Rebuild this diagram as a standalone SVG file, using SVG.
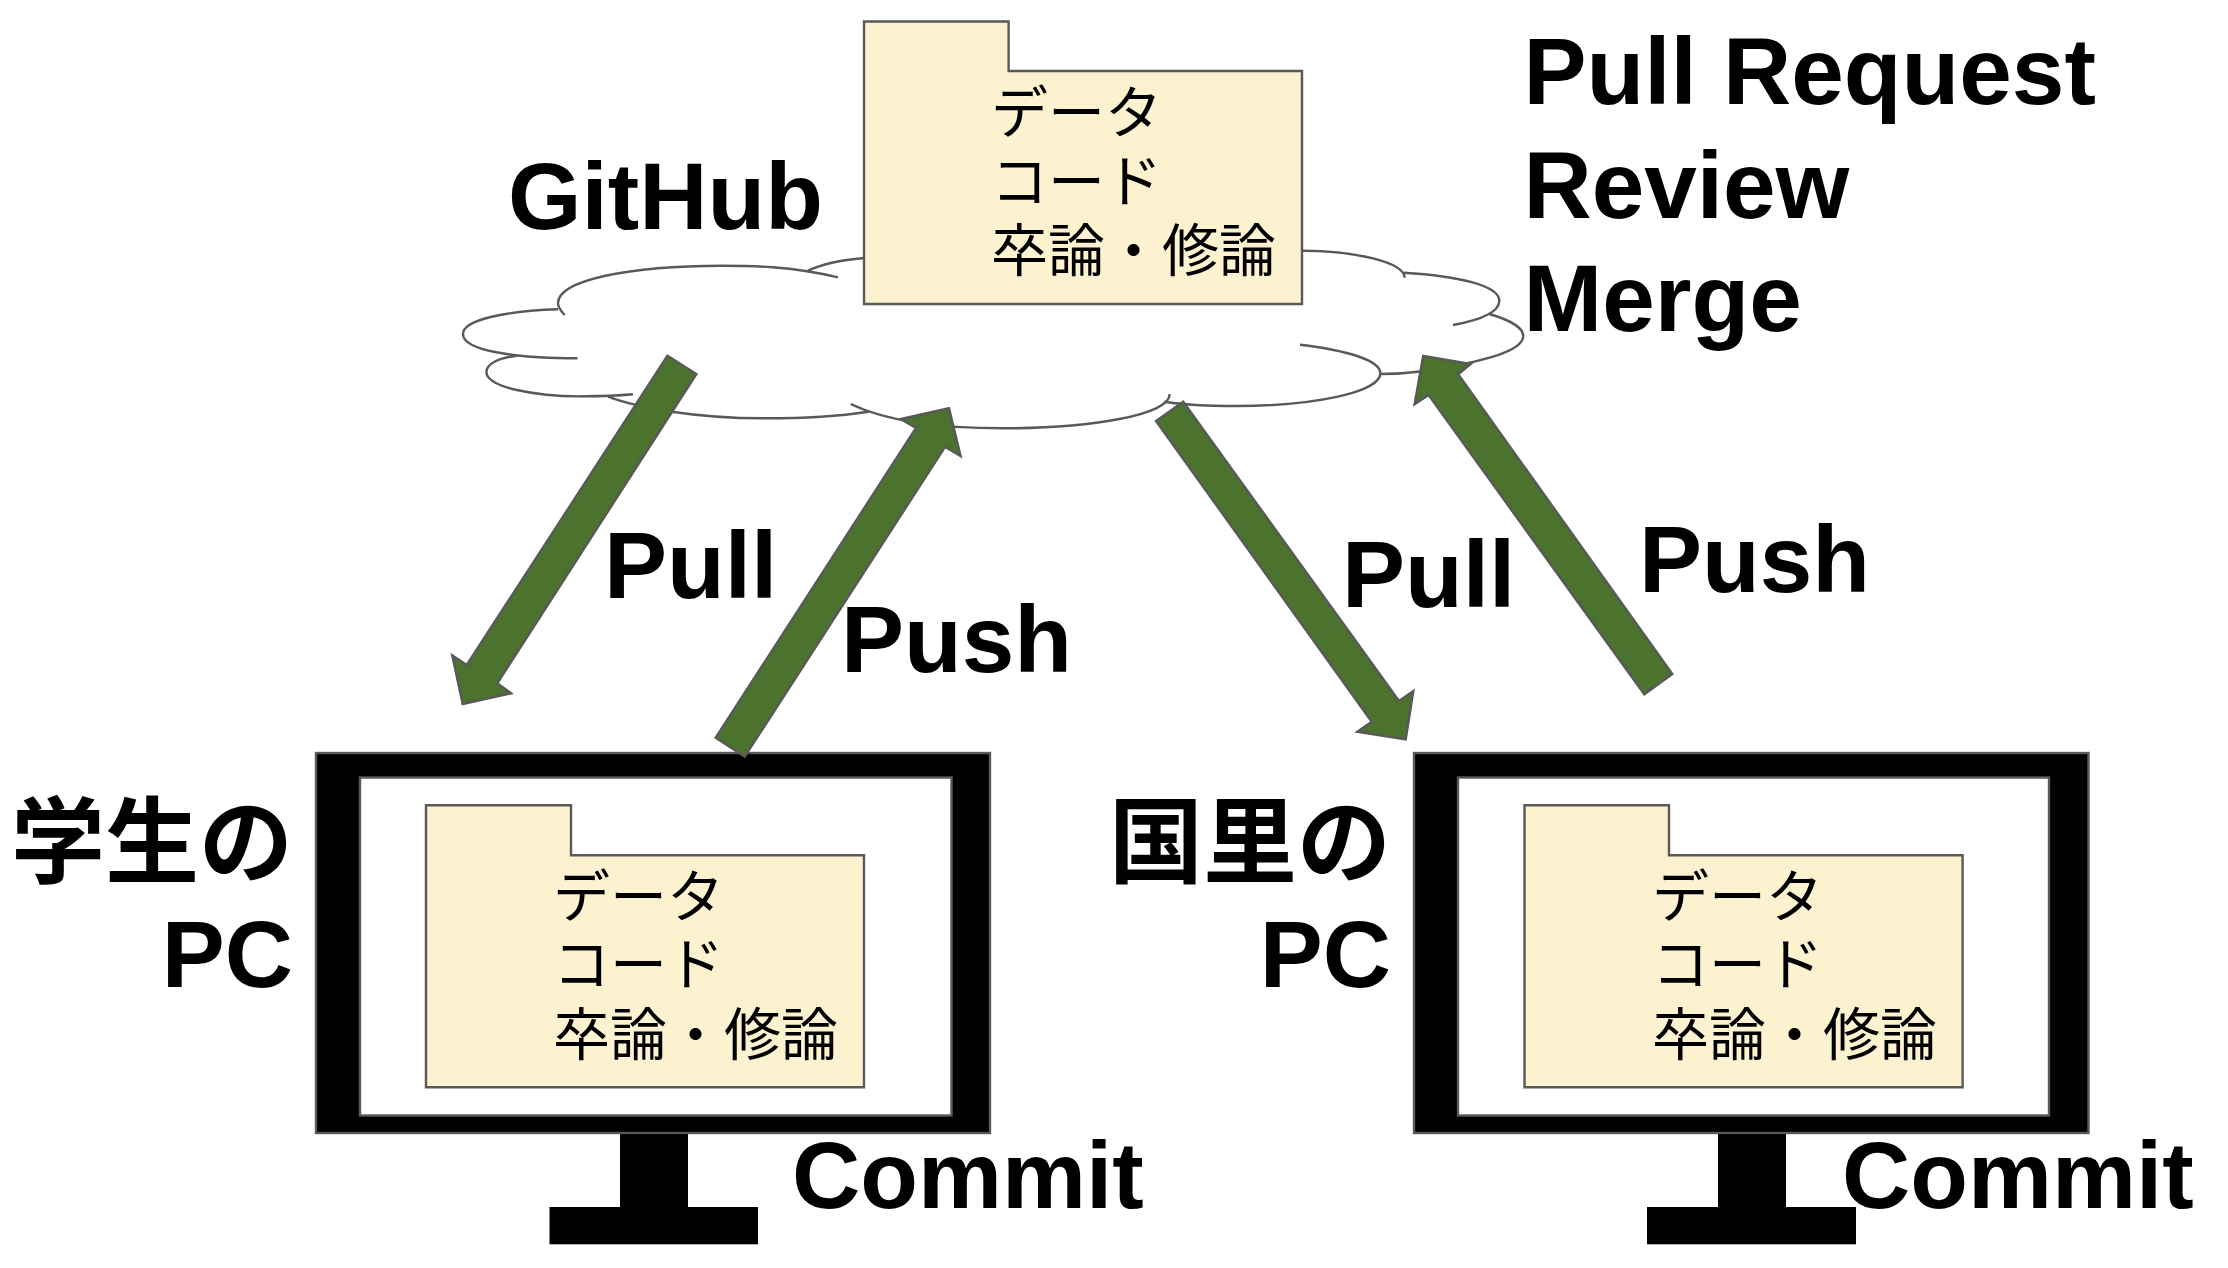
<svg xmlns="http://www.w3.org/2000/svg" width="2228" height="1268" viewBox="0 0 2228 1268">
<style>
.bg{fill:#fff}
.cloud path{fill:none;stroke:#595959;stroke-width:2.4}
.folder{fill:#fcf2d0;stroke:#595959;stroke-width:2.4}
.arrow{fill:#4b732d;stroke:#595959;stroke-width:2.4;stroke-linejoin:miter}
.frame{fill:#000;stroke:#595959;stroke-width:2.4}
.screen{fill:#fff;stroke:#595959;stroke-width:2.4}
.stand{fill:#000}
.l{font-family:"Liberation Sans",Arial,sans-serif;font-weight:700;font-size:94.5px;fill:#000}
.j{font-family:"Liberation Sans","Noto Sans CJK JP",sans-serif;font-weight:700;font-size:94px;fill:#000}
.f{font-family:"Noto Sans CJK JP",sans-serif;font-size:57px;fill:#000}
</style>
<rect class="bg" width="2228" height="1268"/>
<g id="github">
<g class="cloud">
<path d="M838,277.3C790,266 750,265.7 722,265.7C630,265.7 558,280 558,303.3C558,308 561,311 564.6,315"/>
<path d="M808,270.7C822,264 842,260 864,258"/>
<path d="M558,309.3C505,311 463,320 463,334C463,350 510,358 577.5,358.3"/>
<path d="M516.8,355.7C498,358 486.4,364 486.4,372C486.4,387 535,397 585,396.3C602,396.3 620,395.5 633,394.3"/>
<path d="M608,396.7C622,402 640,407 672,411.7C700,416 730,418.3 765,418.3C800,418.3 840,416 868.6,411.7"/>
<path d="M850.7,404C880,418 930,428.3 1004,428.3C1090,428.3 1170,415 1169.6,394"/>
<path d="M1164.3,401.7C1185,405 1210,406 1236,406C1315,406 1380.4,392 1380.4,373.3C1380.4,360 1345,350 1300,344.7"/>
<path d="M1380.4,374C1395,374 1410,373 1425,371C1480,362 1523.2,352 1523.2,336C1523.2,328 1510,320 1489.3,314"/>
<path d="M1453,325C1480,320 1499.3,312 1499.3,300.7C1499.3,286 1460,276 1403.6,272.7"/>
<path d="M1404.6,277.7C1404,262 1355,251 1303,250.7"/>
</g>
<path class="folder" d="M864,21.5H1008.6V71H1302V304H864Z"/>
<text class="f" x="991" y="133">データ</text>
<text class="f" x="991" y="201.5">コード</text>
<text class="f" x="991" y="271">卒論・修論</text>
<text class="l" x="508" y="229">GitHub</text>
</g>
<g id="pc-student">
<rect class="stand" x="620" y="1133" width="68" height="75"/>
<rect class="stand" x="549.5" y="1207" width="208.5" height="37.3"/>
<rect class="frame" x="316" y="753" width="674" height="380"/>
<rect class="screen" x="360" y="777.5" width="591.5" height="338"/>
<path class="folder" d="M426,805.2H571V855.3H864V1087.3H426Z"/>
<text class="f" x="553" y="916.5">データ</text>
<text class="f" x="553" y="985">コード</text>
<text class="f" x="553" y="1054.5">卒論・修論</text>
<text class="j" x="293" y="876" text-anchor="end">学生の</text>
<text class="l" x="293" y="986.5" text-anchor="end">PC</text>
<text class="l" x="792" y="1208">Commit</text>
</g>
<g id="pc-kuniri">
<rect class="stand" x="1718" y="1133" width="68" height="75"/>
<rect class="stand" x="1647" y="1207" width="209" height="37.3"/>
<rect class="frame" x="1414" y="753" width="674.5" height="380"/>
<rect class="screen" x="1458" y="777.5" width="591" height="338"/>
<path class="folder" d="M1524.5,805.2H1669V855.3H1962.6V1087.3H1524.5Z"/>
<text class="f" x="1652" y="916.5">データ</text>
<text class="f" x="1652" y="985">コード</text>
<text class="f" x="1652" y="1054.5">卒論・修論</text>
<text class="j" x="1391" y="876" text-anchor="end">国里の</text>
<text class="l" x="1391" y="986.5" text-anchor="end">PC</text>
<text class="l" x="1842" y="1208">Commit</text>
</g>
<g id="connectors">
<path class="arrow" d="M667.5,355.7L696.4,374L497.3,683.3L511,693.3L462.7,704L452.3,655.3L466.7,665Z"/>
<path class="arrow" d="M715.7,737.7L744.7,756.7L945.1,446.9L960.6,456L949,408.3L900.7,419L916,428Z"/>
<path class="arrow" d="M1183.2,401.7L1156,421L1371.7,721.7L1357.3,731.7L1405.7,739.3L1413.3,691L1399,701Z"/>
<path class="arrow" d="M1672.3,674L1644.3,694.3L1428.6,395L1414.6,404.3L1423.2,356L1470.7,364L1458.2,374.3Z"/>
</g>
<g id="labels">
<text class="l" x="1523.5" y="104">Pull Request</text>
<text class="l" x="1523.5" y="217.5">Review</text>
<text class="l" x="1523.5" y="331">Merge</text>
<text class="l" x="604" y="597.5">Pull</text>
<text class="l" x="841" y="671.5">Push</text>
<text class="l" x="1342" y="606.5">Pull</text>
<text class="l" x="1639" y="591.5">Push</text>
</g>
</svg>
